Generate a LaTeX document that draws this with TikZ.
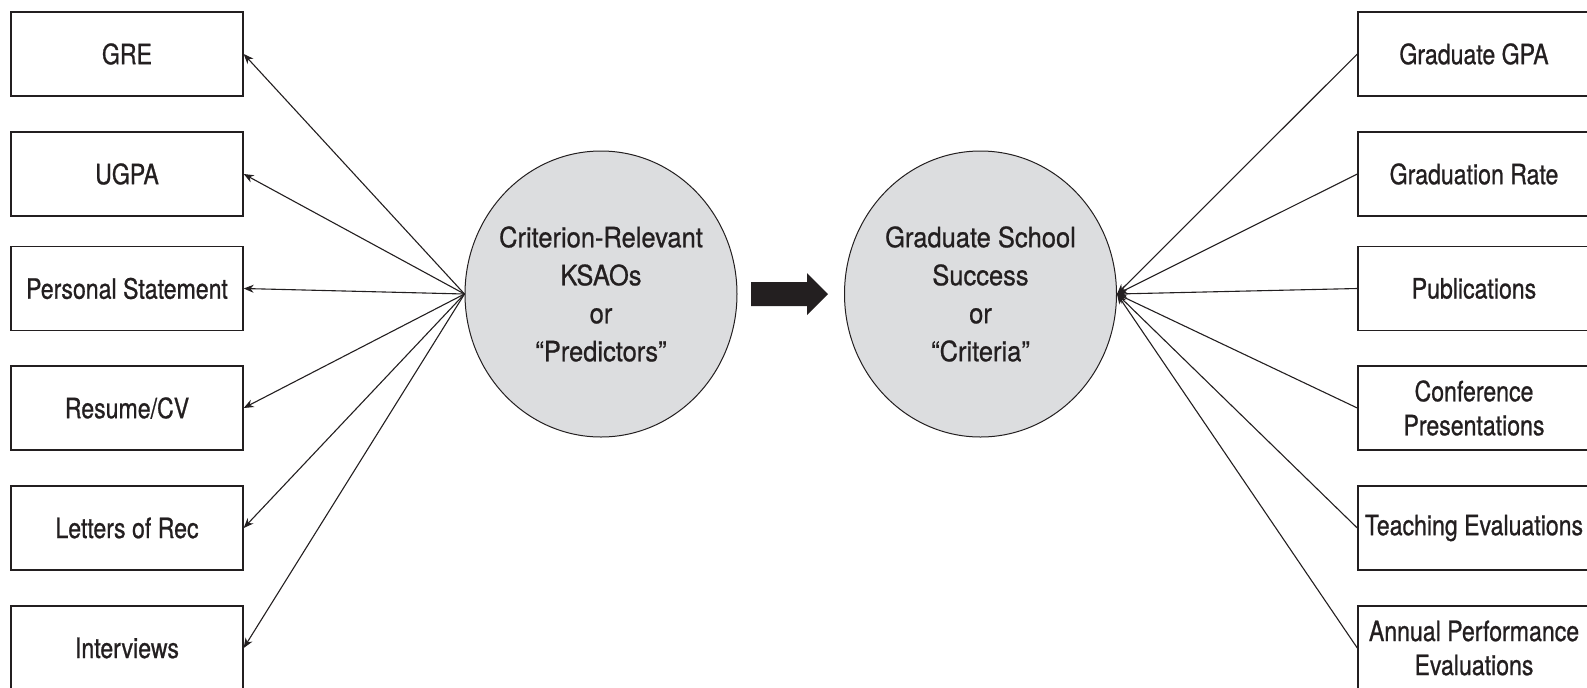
\documentclass[tikz,border=0pt]{standalone}
\usepackage{fontspec}
\setmainfont{TeX Gyre Heros}[FakeStretch=0.825,FakeBold=0.8]
\newfontfamily\discfont{TeX Gyre Heros}[FakeStretch=0.91,FakeBold=0.8]
\usetikzlibrary{arrows.meta,shapes.geometric}
\definecolor{ink}{HTML}{231F20}
\definecolor{discfill}{HTML}{DCDDDF}
\begin{document}
\begin{tikzpicture}[x=0.5pt,y=-0.5pt,
  box/.style={draw=ink, line width=0.7pt, minimum width=116pt, minimum height=42pt,
    inner sep=0pt, align=center, font=\fontsize{14}{17}\selectfont, text=ink},
  disc/.style={ellipse, draw=ink, line width=0.5pt, fill=discfill, minimum width=136pt,
    minimum height=143pt, inner xsep=-10pt, inner ysep=-6pt, align=center,
    font=\discfont\fontsize{14}{19}\selectfont, text=ink},
  link/.style={draw=ink, line width=0.55pt, -{Stealth[length=5pt,width=4pt]}}]
\useasboundingbox (0,0) rectangle (1587,687);
\clip (0,0) rectangle (1587,687);

% predictors (left column)
\node[box] (gre)  at (127,54)    {GRE};
\node[box] (ugpa) at (127,174)   {UGPA};
\node[box] (ps)   at (127,288.5) {Personal Statement};
\node[box] (cv)   at (127,408)   {Resume/CV};
\node[box] (lor)  at (127,528)   {Letters of Rec};
\node[box] (int)  at (127,648)   {Interviews};

% criteria (right column)
\node[box] (ggpa) at (1474,54)    {Graduate GPA};
\node[box] (grat) at (1474,174)   {Graduation Rate};
\node[box] (pub)  at (1474,288.5) {Publications};
\node[box] (conf) at (1474,408)   {Conference\\Presentations};
\node[box] (teach) at (1474,528)  {Teaching Evaluations};
\node[box] (ann)  at (1474,648)   {Annual Performance\\Evaluations};

% the two constructs
\node[disc] (pred) at (601,294)   {Criterion-Relevant\\KSAOs\\or\\“Predictors”};
\node[disc] (crit) at (980.5,294) {Graduate School\\Success\\or\\“Criteria”};

% block arrow between the constructs
\coordinate (ba) at (751,293.5);
\fill[ink] (ba) ++(0,-11.5) -- ++(56,0) -- ++(0,-9) -- ++(21,21) -- ++(-21,21)
  -- ++(0,-9) -- ++(-56,0) -- cycle;

% fan-out from predictors
\foreach \t in {gre,ugpa,ps,cv,lor,int}
  \draw[link] (pred.west) -- (\t.east);

% fan-in to criteria
\foreach \s in {ggpa,grat,pub,conf,teach,ann}
  \draw[link] (\s.west) -- (crit.east);
\end{tikzpicture}
\end{document}
